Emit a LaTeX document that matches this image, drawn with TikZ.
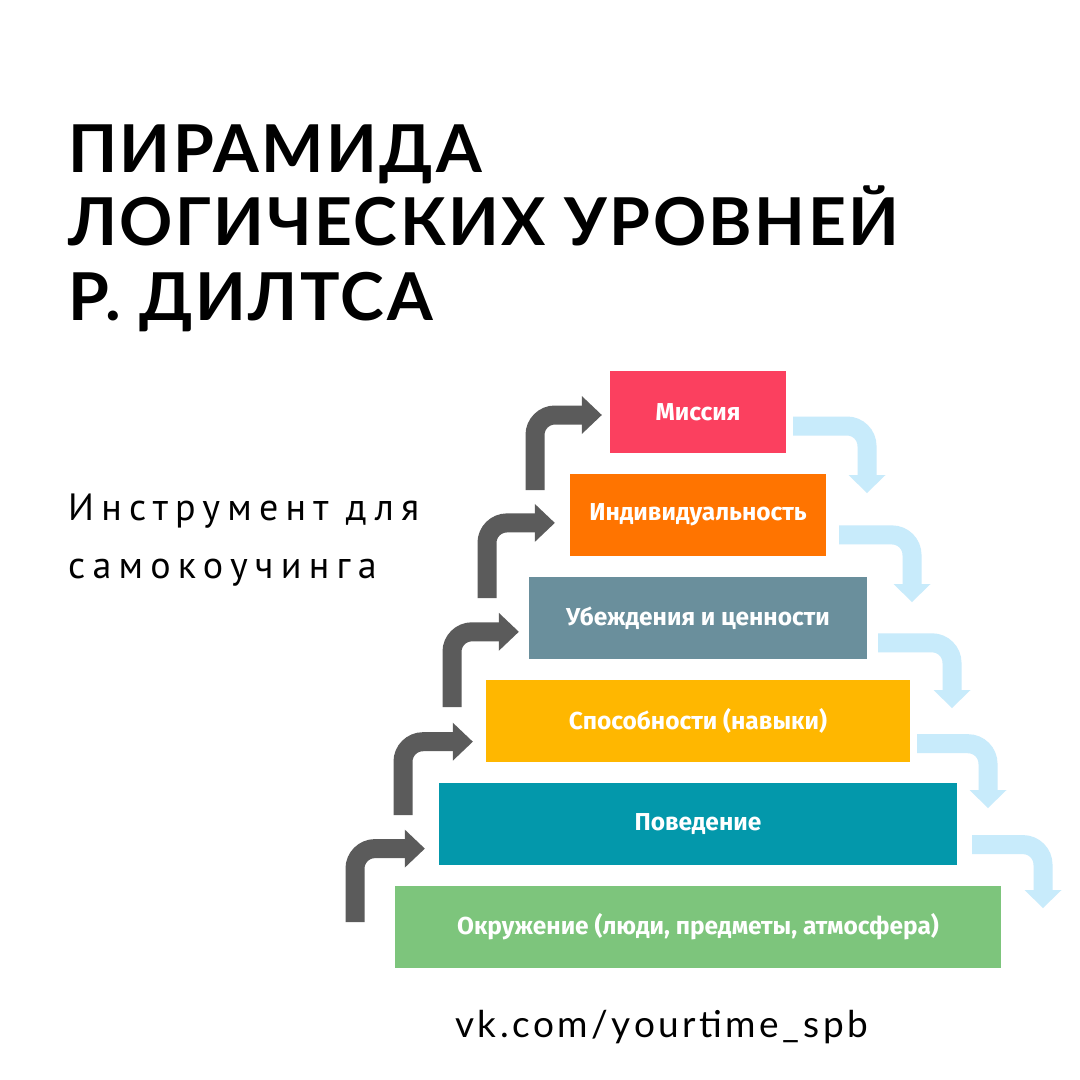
\documentclass[tikz,border=0pt]{standalone}
\usepackage{fontspec}
\usepackage{xcolor}
\usetikzlibrary{arrows.meta,calc,positioning}
\setmainfont{Lato}
\newfontfamily\headfont[LetterSpace=3.8]{Lato}
\newfontfamily\subfont[LetterSpace=19]{PT Sans}
\newfontfamily\boxfont{Fira Sans}
\newfontfamily\urlfont[LetterSpace=9.5]{Lato}
\definecolor{MissionRed}{HTML}{FB405F}
\definecolor{SelfOrange}{HTML}{FF7400}
\definecolor{BeliefGrey}{HTML}{6A8F9C}
\definecolor{SkillYellow}{HTML}{FFB700}
\definecolor{ActTeal}{HTML}{0398AB}
\definecolor{EnvGreen}{HTML}{7DC57C}
\definecolor{UpGrey}{HTML}{5B5B5B}
\definecolor{DownBlue}{HTML}{C8EBFB}

\begin{document}
\begin{tikzpicture}[x=1pt, y=-1pt,
    level/.style={fill=#1, minimum height=82pt, inner sep=0pt, text=white, font=\boxfont\bfseries\fontsize{24.5}{28}\selectfont},
    uparrow/.style={draw=UpGrey, line width=19pt, rounded corners=20pt, -{Triangle[length=20pt, width=38pt, line width=0pt]}},
    downarrow/.style={draw=DownBlue, line width=19pt, rounded corners=20pt, -{Triangle[length=18pt, width=37pt, line width=0pt]}}]
        \useasboundingbox[fill=white] (0,0) rectangle (1080,1080);
        % heading
        \node[anchor=base west, inner sep=0pt, font=\headfont\bfseries\fontsize{66}{66}\selectfont] (head1) at (68,172) {ПИРАМИДА};
        \node[anchor=base west, inner sep=0pt, font=\headfont\bfseries\fontsize{66}{66}\selectfont] (head2) at (68,245) {ЛОГИЧЕСКИХ УРОВНЕЙ};
        \node[anchor=base west, inner sep=0pt, font=\headfont\bfseries\fontsize{66}{66}\selectfont] (head3) at (68,320) {Р. ДИЛТСА};
        \node[anchor=base west, inner sep=0pt, font=\subfont\fontsize{38}{38}\selectfont] (sub1) at (68,520) {Инструмент для};
        \node[anchor=base west, inner sep=0pt, font=\subfont\fontsize{38}{38}\selectfont] (sub2) at (68,578) {самокоучинга};
        % levels
        \node[level=MissionRed, minimum width=176pt] (mis) at (698,412) {Миссия};
        \node[level=SelfOrange, minimum width=256pt, below=20.5pt of mis] (ind) {Индивидуальность};
        \node[level=BeliefGrey, minimum width=338pt, below=20.5pt of ind] (ube) {Убеждения и ценности};
        \node[level=SkillYellow, minimum width=424pt, below=20.5pt of ube] (spo) {Способности (навыки)};
        \node[level=ActTeal, minimum width=518pt, below=20.5pt of spo] (pov) {Поведение};
        \node[level=EnvGreen, minimum width=606pt, below=20.5pt of pov] (okr) {Окружение (люди, предметы, атмосфера)};
        % up arrows
        \coordinate (u1) at (355,922);
        \coordinate (u2) at (403,815);
        \coordinate (u3) at (452,707);
        \coordinate (u4) at (487,598);
        \coordinate (u5) at (535,490);
        \draw[uparrow] (u1) |- ([xshift=-14pt, yshift=-25pt]pov.west);
        \draw[uparrow] (u2) |- ([xshift=-13pt, yshift=-21pt]spo.west);
        \draw[uparrow] (u3) |- ([xshift=-10pt, yshift=-14pt]ube.west);
        \draw[uparrow] (u4) |- ([xshift=-15pt, yshift=-8pt]ind.west);
        \draw[uparrow] (u5) |- ([xshift=-8pt, yshift=-3pt]mis.west);
        % down arrows
        \coordinate (d1) at (867,493);
        \coordinate (d2) at (912,602);
        \coordinate (d3) at (952,708);
        \coordinate (d4) at (988,808);
        \coordinate (d5) at (1043,908);
        \draw[downarrow] ([xshift=7pt, yshift=-14pt]mis.east) -| (d1);
        \draw[downarrow] ([xshift=13pt, yshift=-20pt]ind.east) -| (d2);
        \draw[downarrow] ([xshift=11pt, yshift=-25pt]ube.east) -| (d3);
        \draw[downarrow] ([xshift=7pt, yshift=-23pt]spo.east) -| (d4);
        \draw[downarrow] ([xshift=15pt, yshift=-21pt]pov.east) -| (d5);
        % footer
        \node[anchor=base west, inner sep=0pt, font=\urlfont\fontsize{37}{37}\selectfont] (url) at (455,1037) {vk.com/yourtime\_spb};
    \end{tikzpicture}
\end{document}
